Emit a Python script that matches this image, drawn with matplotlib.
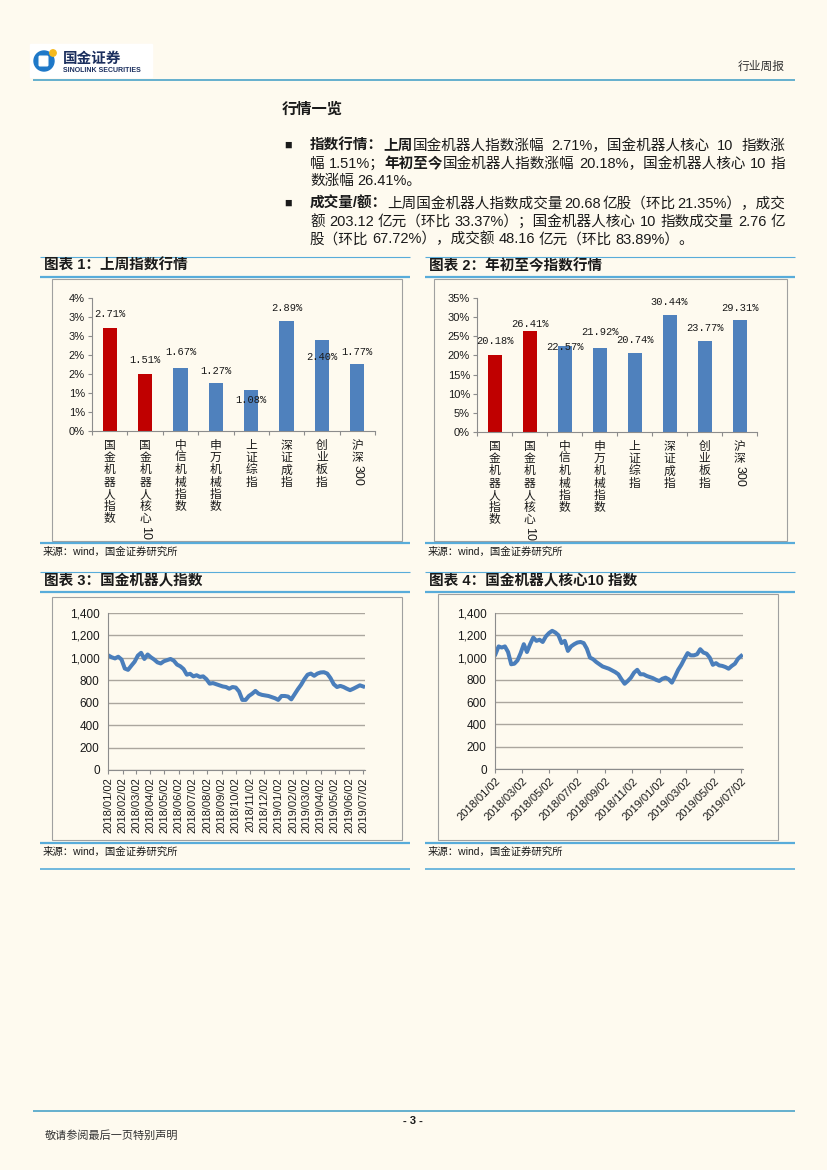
import numpy as np
import pandas as pd
import matplotlib
matplotlib.use("Agg")
import matplotlib.pyplot as plt
import matplotlib.dates as mdates
from matplotlib.ticker import FuncFormatter, MultipleLocator
from matplotlib.patches import Rectangle, Circle, FancyBboxPatch

plt.rcParams['font.family'] = ['Liberation Sans', 'Noto Sans CJK SC', 'DejaVu Sans']

# ---- data ----
categories = ["国金机器人指数", "国金机器人核心10", "中信机械指数", "申万机械指数",
              "上证综指", "深证成指", "创业板指", "沪深300"]
week_change = [2.71, 1.51, 1.67, 1.27, 1.08, 2.89, 2.40, 1.77]     # %
ytd_change = [20.18, 26.41, 22.57, 21.92, 20.74, 30.44, 23.77, 29.31]  # %

# weekly readings, 2018/01/02 - 2019/07/02
robot_index = [1021, 1005, 995, 1010, 985, 905, 893, 930, 965, 1020,
               1045, 990, 1030, 1005, 985, 960, 950, 970, 980, 990,
               975, 940, 925, 900, 850, 858, 835, 845, 830, 835,
               810, 770, 775, 765, 755, 745, 740, 725, 740, 735,
               700, 625, 625, 660, 680, 705, 680, 670, 665, 660,
               650, 640, 625, 660, 660, 655, 630, 675, 720, 760,
               810, 850, 860, 840, 860, 870, 872, 860, 820, 765,
               740, 750, 740, 725, 712, 725, 740, 755, 745]
core10_index = [1030, 1100, 1090, 1100, 1050, 940, 945, 975, 1040, 1120,
                1050, 1120, 1180, 1150, 1160, 1140, 1190, 1220, 1240, 1225,
                1200, 1130, 1150, 1060, 1100, 1120, 1135, 1140, 1130, 1080,
                1000, 985, 960, 940, 920, 910, 900, 885, 870, 850,
                805, 765, 790, 820, 865, 890, 850, 850, 835, 825,
                815, 800, 790, 810, 820, 805, 775, 830, 890, 935,
                990, 1040, 1020, 1020, 1030, 1075, 1045, 1035, 1000, 935,
                950, 930, 925, 915, 900, 925, 945, 990, 1015]
dates = pd.date_range("2018-01-02", periods=len(robot_index), freq="7D")

# ---- page setup ----
W, H = 827, 1170
BG = '#FEFAEF'
SEC = '#58ACDA'
RED = '#C00000'
BLUE = '#4F81BD'
TXT = '#1A1A1A'
AX = '#8C8C8C'
GRID = '#ABA69E'

fig = plt.figure(figsize=(8.27, 11.70), dpi=100, facecolor=BG)
page = fig.add_axes([0, 0, 1, 1])
page.set_xlim(0, W)
page.set_ylim(H, 0)
page.axis('off')
renderer = fig.canvas.get_renderer()


def px_axes(l, t, r, b):
    ax = fig.add_axes([l / W, 1 - b / H, (r - l) / W, (b - t) / H])
    ax.set_facecolor('none')
    return ax


def hline(x0, x1, y, lw, color=SEC):
    page.plot([x0, x1], [y, y], color=color, lw=lw, solid_capstyle='butt')


def runs(x, y, parts, size=10.5, right=None):
    # split runs at spaces so a full line can be justified to the right edge
    tokens = []
    for s, bold in parts:
        pieces = s.split(' ')
        for k, p in enumerate(pieces):
            if p:
                tokens.append([p, bold, k < len(pieces) - 1])
    texts = []
    for p, bold, _ in tokens:
        t = page.text(x, y, p, fontsize=size, color=TXT, va='center',
                      fontweight='bold' if bold else 'normal')
        texts.append(t)
    widths = [t.get_window_extent(renderer).width for t in texts]
    ngap = sum(1 for tk in tokens[:-1] if tk[2])
    gap = size * 0.35
    if right is not None and ngap:
        gap = (right - x - sum(widths)) / ngap
    cx = x
    for t, w, tk in zip(texts, widths, tokens):
        t.set_x(cx)
        cx += w + (gap if tk[2] else 0)


# header
page.add_patch(Rectangle((30, 44), 122, 33, color='white', zorder=1))
page.add_patch(Circle((44, 61), 10, color='#1E78C8', zorder=2))
page.add_patch(FancyBboxPatch((40, 57), 7, 8, boxstyle='round,pad=0.8',
                              color='white', zorder=3))
page.add_patch(Circle((53, 53), 3.2, color='#F5B91E', zorder=4))
page.text(63, 58.5, "国金证券", fontsize=10.5, fontweight='bold', color='#1B2F5E',
          va='center', zorder=5)
page.text(63, 70.5, "SINOLINK SECURITIES", fontsize=5, fontweight='bold',
          color='#1B2F5E', va='center', zorder=5)
page.text(785, 67, "行业周报", fontsize=8.5, color='#333333', ha='right', va='center')
hline(33, 795, 79.5, 1.2, '#4BA3C8')

# summary text
page.text(282, 110, "行情一览", fontsize=11, fontweight='bold', color=TXT, va='center')
LS = 17.6
TX, RX = 310, 785
y0 = 146
page.text(288, y0, "■", fontsize=9, color=TXT, ha='center', va='center')
runs(TX, y0, [("指数行情：", True), ("上周", True),
              ("国金机器人指数涨幅 2.71%，国金机器人核心 10 指数涨", False)], right=RX)
runs(TX, y0 + LS, [("幅 1.51%；", False), ("年初至今", True),
                   ("国金机器人指数涨幅 20.18%，国金机器人核心 10 指", False)], right=RX)
runs(TX, y0 + 2 * LS, [("数涨幅 26.41%。", False)])
y1 = 204
page.text(288, y1, "■", fontsize=9, color=TXT, ha='center', va='center')
runs(TX, y1, [("成交量/额：", True),
              ("上周国金机器人指数成交量 20.68 亿股（环比 21.35%），成交", False)], right=RX)
runs(TX, y1 + LS, [("额 203.12 亿元（环比 33.37%）；国金机器人核心 10 指数成交量 2.76 亿",
                    False)], right=RX)
runs(TX, y1 + 2 * LS, [("股（环比 67.72%），成交额 48.16 亿元（环比 83.89%）。", False)])


def section(x0, x1, ytop, title, ybottom, box, extra_line=None):
    hline(x0, x1, ytop, 0.8)
    page.text(x0 + 4, ytop + 9, title, fontsize=10.5, fontweight='bold', color=TXT,
              va='center')
    hline(x0, x1, ytop + 20, 1.6)
    l, t, r, b = box
    page.add_patch(Rectangle((l, t), r - l, b - t, fill=False, ec='#A0A0A0', lw=0.8))
    hline(x0, x1, ybottom, 1.6)
    page.text(x0 + 3, ybottom + 9, "来源：wind，国金证券研究所", fontsize=7.5,
              color=TXT, va='center')
    if extra_line:
        hline(x0, x1, extra_line, 1.2)


section(40, 410, 257, "图表 1：上周指数行情", 543, (52, 279, 402, 541))
section(425, 795, 257, "图表 2：年初至今指数行情", 543, (434, 279, 787, 541))
section(40, 410, 572, "图表 3：国金机器人指数", 843, (52, 597, 402, 840), 869)
section(425, 795, 572, "图表 4：国金机器人核心10 指数", 843, (438, 594, 778, 840), 869)


def vertical_label(xc, ytop, name, step=12.2):
    y = ytop
    i = 0
    while i < len(name):
        if name[i].isascii():
            j = i
            while j < len(name) and name[j].isascii():
                j += 1
            page.text(xc, y + 1, name[i:j], rotation=-90, fontsize=9, color=TXT,
                      ha='center', va='top')
            i = j
        else:
            page.text(xc, y, name[i], fontsize=8.5, color=TXT, ha='center', va='top')
            y += step
            i += 1


def bar_chart(box, values, ymax, ystep, fmt, offsets):
    l, t, r, b = box
    ax = px_axes(l, t, r, b)
    n = len(values)
    x = np.arange(n)
    colors = [RED] * 2 + [BLUE] * (n - 2)
    ax.bar(x, values, width=0.4, color=colors)
    ax.set_xlim(-0.5, n - 0.5)
    ax.set_ylim(0, ymax)
    ax.yaxis.set_major_locator(MultipleLocator(ystep))
    ax.yaxis.set_major_formatter(FuncFormatter(fmt))
    ax.set_xticks(np.arange(n + 1) - 0.5)
    ax.set_xticklabels([])
    ax.tick_params(axis='both', direction='out', length=3, width=0.8, color=AX,
                   labelsize=8, labelcolor=TXT, pad=2)
    for s in ['top', 'right']:
        ax.spines[s].set_visible(False)
    for s in ['left', 'bottom']:
        ax.spines[s].set_color(AX)
        ax.spines[s].set_linewidth(0.8)
    for xi, v, off in zip(x, values, offsets):
        ax.text(xi, v + off, f"{v:.2f}%", ha='center', va='center', fontsize=7.5,
                family='Liberation Mono', color=TXT)
    cw = (r - l) / n
    for i, name in enumerate(categories):
        vertical_label(l + cw * (i + 0.5), b + 9, name)
    return ax


bar_chart((92, 298, 375, 431), week_change, 3.5, 0.5,
          lambda v, _: f"{int(v + 0.5 + 1e-9)}%",
          [0.38, 0.37, 0.41, 0.31, -0.26, 0.35, -0.45, 0.31])
bar_chart((477, 298, 757, 432), ytd_change, 35, 5,
          lambda v, _: f"{int(round(v))}%",
          [3.7, 1.8, -0.3, 4.2, 3.2, 3.5, 3.4, 3.2])


def line_chart(box, values, locator, rot):
    ax = px_axes(*box)
    ax.plot(dates, values, color='#4A7EBB', lw=2.9, solid_joinstyle='round')
    ax.set_ylim(0, 1400)
    ax.yaxis.set_major_locator(MultipleLocator(200))
    ax.yaxis.set_major_formatter(FuncFormatter(lambda v, _: f"{int(v):,}"))
    ax.grid(axis='y', color=GRID, lw=1)
    ax.set_axisbelow(True)
    ax.set_xlim(pd.Timestamp("2018-01-01"), pd.Timestamp("2019-07-06"))
    ax.xaxis.set_major_locator(locator)
    ax.xaxis.set_major_formatter(mdates.DateFormatter('%Y/%m/%d'))
    ax.tick_params(axis='y', length=0, labelsize=8.5, labelcolor=TXT, pad=6)
    ax.tick_params(axis='x', direction='out', length=3, width=0.8, color=AX,
                   labelsize=8, labelcolor=TXT, pad=2)
    for s in ['top', 'right']:
        ax.spines[s].set_visible(False)
    for s in ['left', 'bottom']:
        ax.spines[s].set_color(AX)
        ax.spines[s].set_linewidth(0.8)
    if rot == 90:
        plt.setp(ax.get_xticklabels(), rotation=90, ha='center', va='top')
    else:
        plt.setp(ax.get_xticklabels(), rotation=45, ha='right', va='top',
                 rotation_mode='anchor')
    return ax


line_chart((108, 613, 365, 770), robot_index, mdates.MonthLocator(bymonthday=2), 90)
line_chart((495, 613, 743, 769), core10_index,
           mdates.MonthLocator(bymonth=[1, 3, 5, 7, 9, 11], bymonthday=2), 45)

# footer
hline(33, 795, 1110.5, 1.2, '#4BA3C8')
page.text(413, 1121, "- 3 -", fontsize=8, fontweight='bold', color=TXT,
          ha='center', va='center')
page.text(45, 1136, "敬请参阅最后一页特别声明", fontsize=8, color='#333333', va='center')

fig.savefig("out.png", dpi=100, facecolor=BG)
